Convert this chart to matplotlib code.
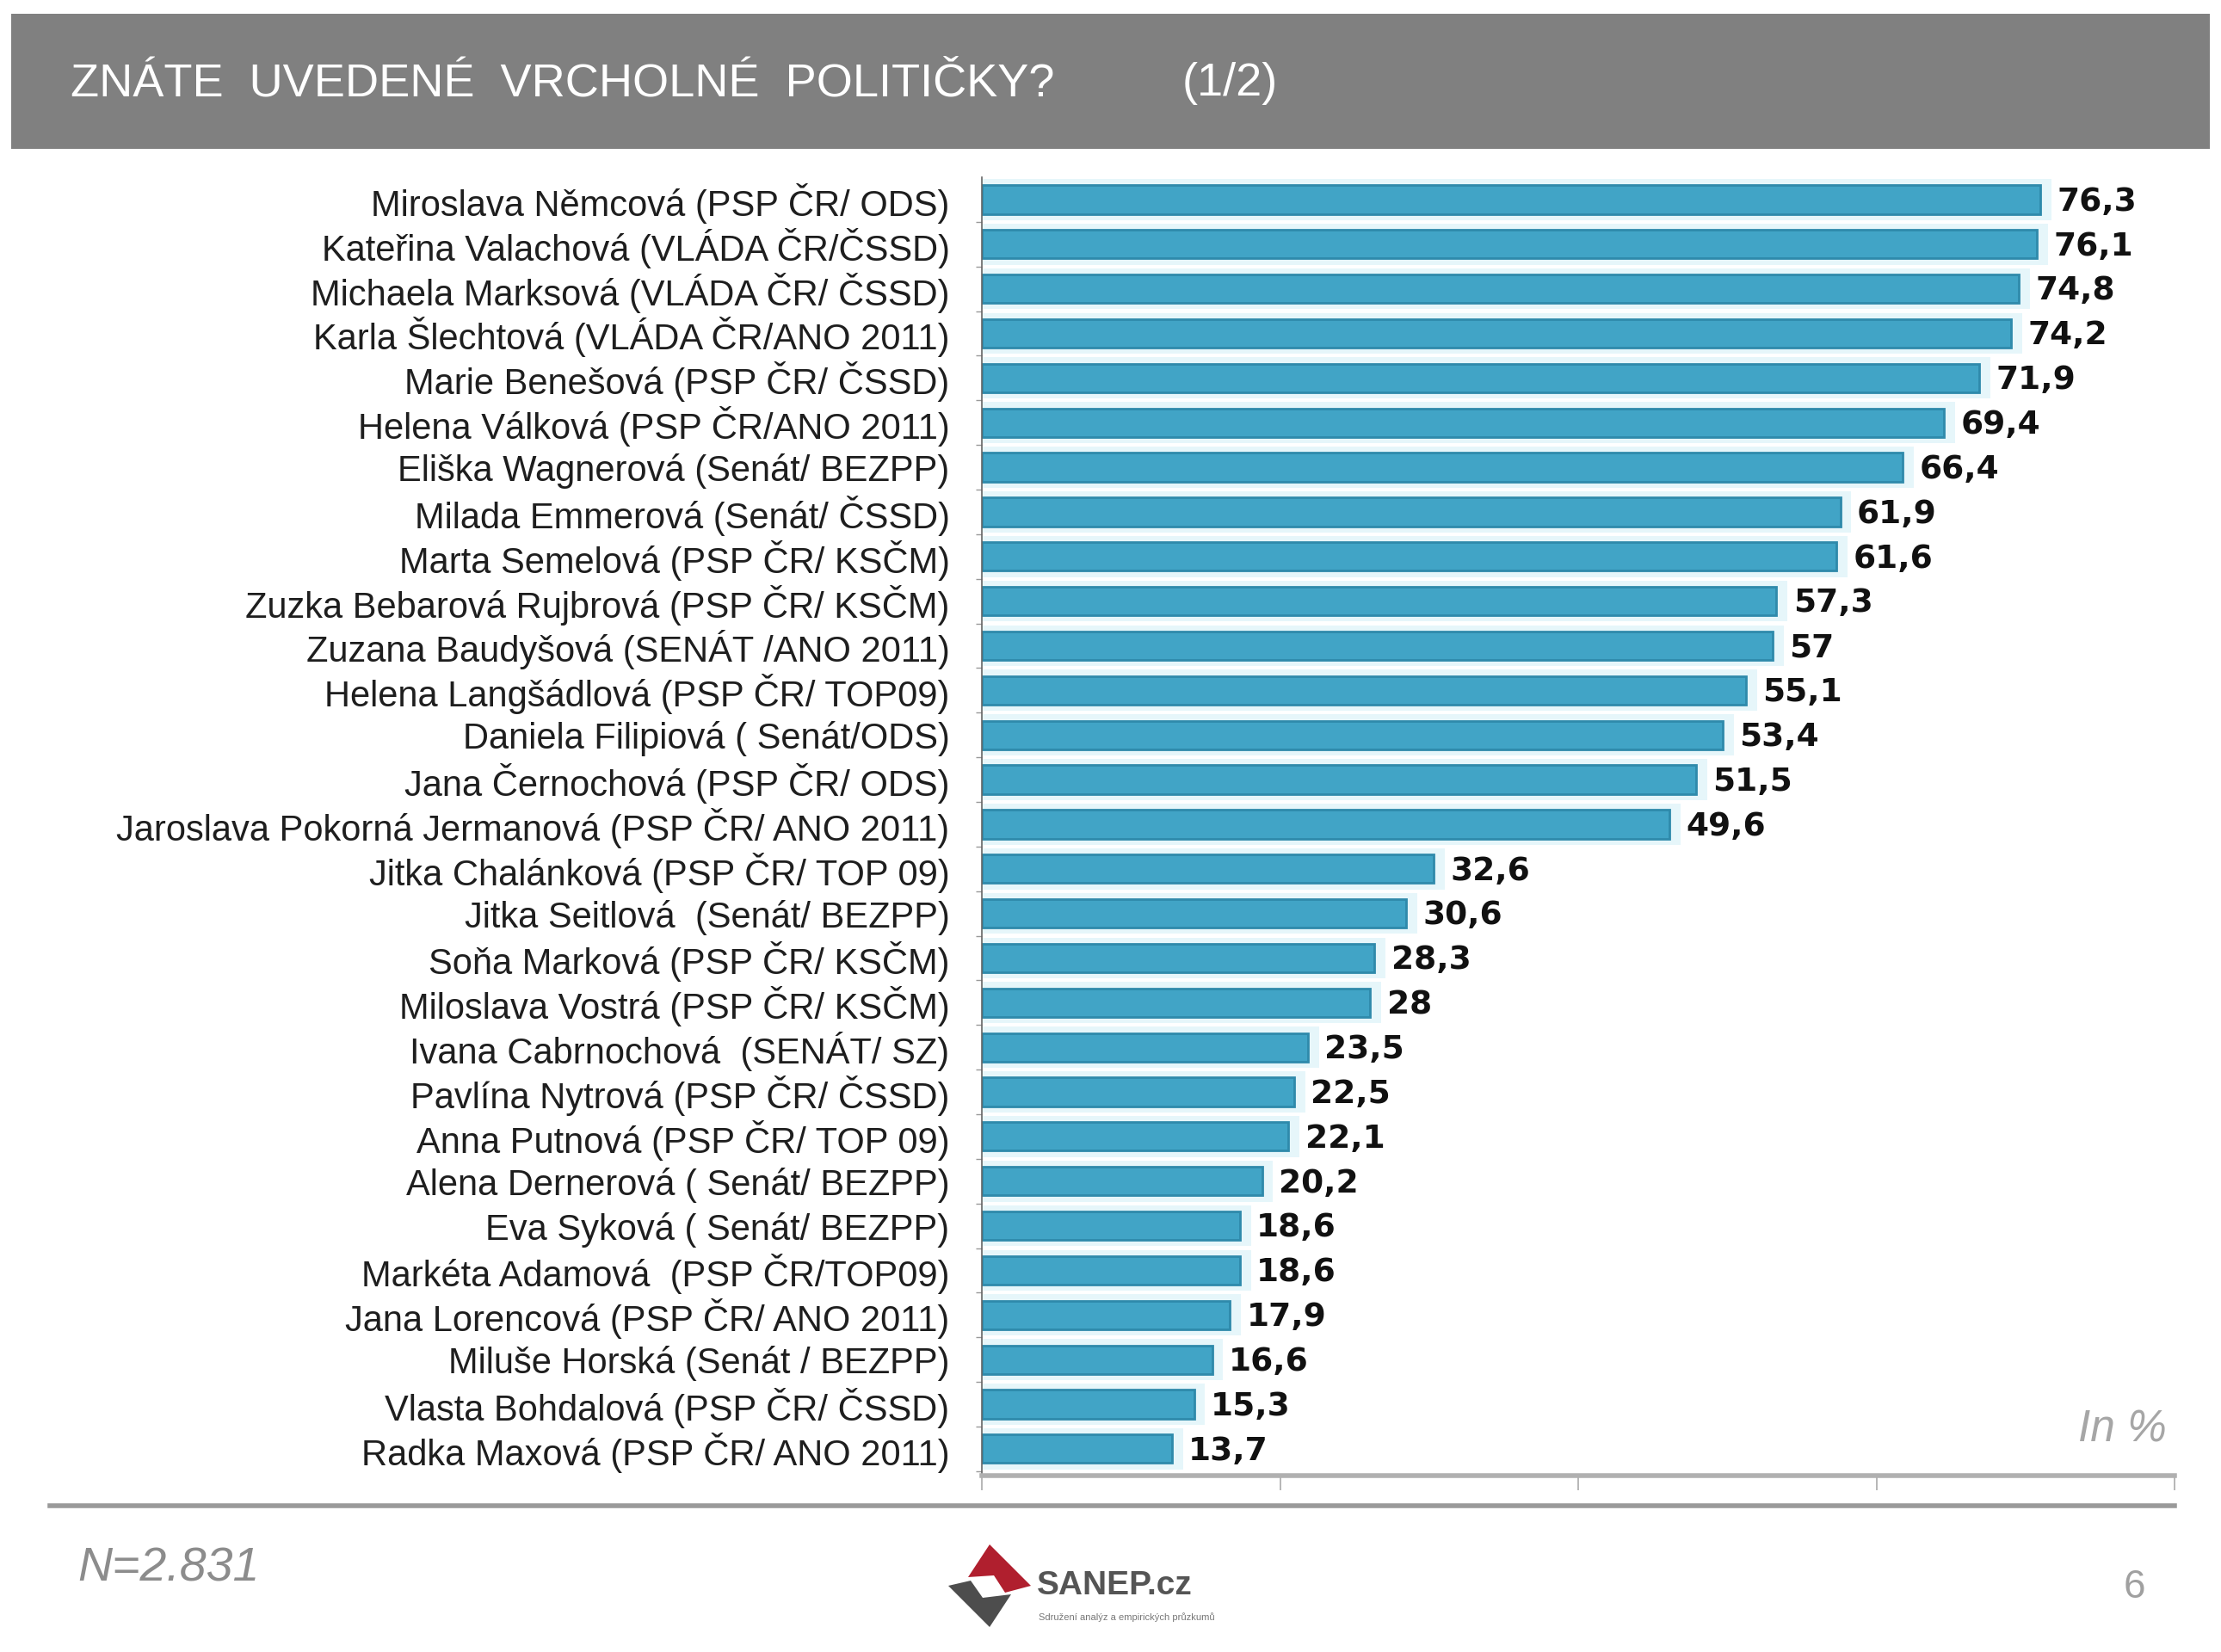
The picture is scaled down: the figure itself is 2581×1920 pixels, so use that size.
import matplotlib
matplotlib.use('Agg')
import matplotlib.pyplot as plt
from matplotlib.patches import Rectangle, Polygon
import numpy as np

plt.rcParams['font.family'] = ['Liberation Sans', 'DejaVu Sans']

# Data
names = [
    'Miroslava Němcová (PSP ČR/ ODS)',
    'Kateřina Valachová (VLÁDA ČR/ČSSD)',
    'Michaela Marksová (VLÁDA ČR/ ČSSD)',
    'Karla Šlechtová (VLÁDA ČR/ANO 2011)',
    'Marie Benešová (PSP ČR/ ČSSD)',
    'Helena Válková (PSP ČR/ANO 2011)',
    'Eliška Wagnerová (Senát/ BEZPP)',
    'Milada Emmerová (Senát/ ČSSD)',
    'Marta Semelová (PSP ČR/ KSČM)',
    'Zuzka Bebarová Rujbrová (PSP ČR/ KSČM)',
    'Zuzana Baudyšová (SENÁT /ANO 2011)',
    'Helena Langšádlová (PSP ČR/ TOP09)',
    'Daniela Filipiová ( Senát/ODS)',
    'Jana Černochová (PSP ČR/ ODS)',
    'Jaroslava Pokorná Jermanová (PSP ČR/ ANO 2011)',
    'Jitka Chalánková (PSP ČR/ TOP 09)',
    'Jitka Seitlová  (Senát/ BEZPP)',
    'Soňa Marková (PSP ČR/ KSČM)',
    'Miloslava Vostrá (PSP ČR/ KSČM)',
    'Ivana Cabrnochová  (SENÁT/ SZ)',
    'Pavlína Nytrová (PSP ČR/ ČSSD)',
    'Anna Putnová (PSP ČR/ TOP 09)',
    'Alena Dernerová ( Senát/ BEZPP)',
    'Eva Syková ( Senát/ BEZPP)',
    'Markéta Adamová  (PSP ČR/TOP09)',
    'Jana Lorencová (PSP ČR/ ANO 2011)',
    'Miluše Horská (Senát / BEZPP)',
    'Vlasta Bohdalová (PSP ČR/ ČSSD)',
    'Radka Maxová (PSP ČR/ ANO 2011)',
]
values = [76.3, 76.1, 74.8, 74.2, 71.9, 69.4, 66.4, 61.9, 61.6, 57.3, 57, 55.1,
          53.4, 51.5, 49.6, 32.6, 30.6, 28.3, 28, 23.5, 22.5, 22.1, 20.2, 18.6,
          18.6, 17.9, 16.6, 15.3, 13.7]
x_max = 86

title = 'ZNÁTE  UVEDENÉ  VRCHOLNÉ  POLITIČKY?'
page_part = '(1/2)'
sample = 'N=2.831'
unit = 'In %'

W, H = 2581, 1920
fig = plt.figure(figsize=(W / 100, H / 100), dpi=100)


def fx(x):
    return x / W


def fy(y):
    return 1 - y / H


# header bar
fig.patches.append(Rectangle((fx(13), fy(173)), fx(2555), 157 / H, transform=fig.transFigure,
                             facecolor='#808080', edgecolor='none', zorder=0))
fig.text(fx(82), fy(97), title, color='white', fontsize=39, va='center', ha='left')
fig.text(fx(1374), fy(97), page_part, color='white', fontsize=39, va='center', ha='left')

ax = fig.add_axes([fx(1141), fy(1715), fx(2527 - 1141), (1715 - 206) / H])
y = np.arange(len(values))

# pale glow behind the bars, then the bars
ax.barh(y, np.array(values) + 0.8, height=0.92, color='#e6f6fa', zorder=1)
ax.barh(y, values, height=0.64, color='#41a4c6', edgecolor='#2f8aab', linewidth=2, zorder=2)

for yi, v in zip(y, values):
    ax.annotate(f'{v:g}'.replace('.', ','), (v, yi), xytext=(14, -2), textcoords='offset points',
                ha='left', va='center', fontsize=27, fontweight='bold',
                family='DejaVu Sans', color='#111111', zorder=3)

ax.set_xlim(0, x_max)
ax.set_ylim(len(values) - 0.4, -0.5)
ax.set_yticks(y)
ax.set_yticklabels(names, fontsize=30, color='#1e1e1e')
ax.set_yticks(np.arange(len(values)) + 0.5, minor=True)
ax.tick_params(axis='y', which='major', length=0, pad=27)
ax.tick_params(axis='y', which='minor', length=5, width=1, color='#999999')
ax.set_xticks(np.linspace(0, x_max, 5))
ax.set_xticklabels([])
ax.tick_params(axis='x', length=12, width=1.2, color='#aaaaaa')

for s in ['top', 'right']:
    ax.spines[s].set_visible(False)
ax.spines['left'].set_color('#666666')
ax.spines['left'].set_linewidth(1.2)
ax.spines['bottom'].set_color('#b0b0b0')
ax.spines['bottom'].set_linewidth(4)

fig.text(fx(2518), fy(1662), unit, color='#a6a6a6', fontsize=37, style='italic',
         ha='right', va='center')

# separator line at the bottom
fig.add_artist(plt.Line2D([fx(58), fx(2527)], [fy(1750), fy(1750)], color='#9a9a9a',
                          linewidth=4, transform=fig.transFigure))

fig.text(fx(90), fy(1824), sample, color='#8c8c8c', fontsize=40, style='italic',
         ha='left', va='center')
fig.text(fx(2480), fy(1845), '6', color='#a0a0a0', fontsize=33, ha='center', va='center')

# SANEP logo
cx, cy, r = 1150, 1843, 48
red = [(cx, cy - r), (cx + r, cy), (cx + 18, cy + 8), (cx + 5, cy - 12), (cx - 25, cy - 10)]
grey = [(cx - r, cy), (cx - 22, cy - 6), (cx - 8, cy + 14), (cx + 25, cy + 10), (cx, cy + r)]
for pts, c in [(red, '#b01f2e'), (grey, '#4d4d4d')]:
    fig.patches.append(Polygon([(fx(a), fy(b)) for a, b in pts], closed=True,
                               transform=fig.transFigure, facecolor=c, edgecolor='none'))
fig.text(fx(1205), fy(1843), 'SANEP.cz', color='#555555', fontsize=28, fontweight='bold',
         ha='left', va='center')
fig.text(fx(1207), fy(1880), 'Sdružení analýz a empirických průzkumů', color='#777777',
         fontsize=8, ha='left', va='center')

fig.savefig('out.png', dpi=100, facecolor='white')
